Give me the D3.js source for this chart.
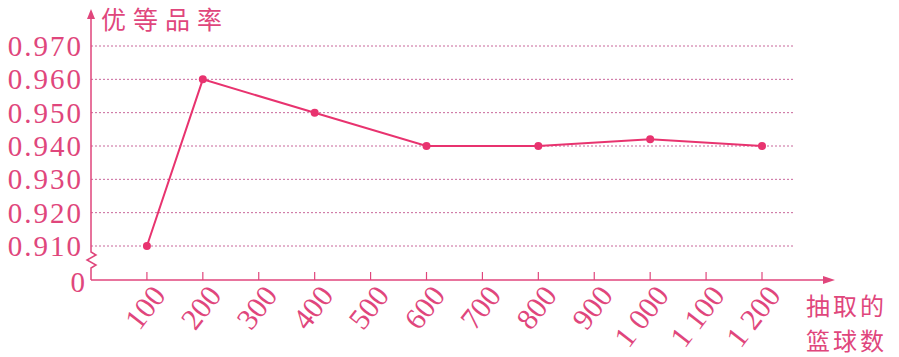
<!DOCTYPE html>
<html>
  <head>
    <meta charset="utf-8">
    <title>优等品率</title>
    <script src="https://cdn.jsdelivr.net/npm/d3@7"></script>
    <style>
      body { margin: 0; background: #fff; }
      text { fill: #e0467c; }
    </style>
  </head>
  <body>
    <svg width="899" height="357" id="mainsvg"></svg>
    <script>

    // data
    const sampleSizes = [100, 200, 400, 600, 800, 1000, 1200];
    const rates = [0.910, 0.960, 0.950, 0.940, 0.940, 0.942, 0.940];
    const xTicks = [100, 200, 300, 400, 500, 600, 700, 800, 900, 1000, 1100, 1200];
    const xTickLabels = ['100', '200', '300', '400', '500', '600', '700', '800', '900', '1 000', '1 100', '1 200'];
    const yTicks = [0.910, 0.920, 0.930, 0.940, 0.950, 0.960, 0.970];

    const pink = '#e0467c';
    const lineColor = '#e8336f';
    const svg = d3.select('svg');

    const x = d3.scaleLinear().domain([0, 1200]).range([91, 762]);
    const y = d3.scaleLinear().domain([0.910, 0.970]).range([246, 46]);
    const axisY = 280;

    // dotted grid lines
    svg.append('g').selectAll('line')
      .data(yTicks)
      .enter().append('line')
      .attr('x1', x(0)).attr('x2', 793)
      .attr('y1', d => y(d)).attr('y2', d => y(d))
      .attr('stroke', '#c8669a')
      .attr('stroke-width', 1)
      .attr('stroke-dasharray', '2,2');

    // y axis with the break
    svg.append('path')
      .attr('d', `M${x(0)},${axisY} L${x(0)},268 L${x(0)+5},265 L${x(0)-4},260 L${x(0)+5},255 L${x(0)},252 L${x(0)},16`)
      .attr('fill', 'none')
      .attr('stroke', pink)
      .attr('stroke-width', 1.5);
    svg.append('path')
      .attr('d', `M${x(0)},9 L${x(0)-4},19 L${x(0)+4},19 Z`)
      .attr('fill', pink);

    // x axis
    svg.append('line')
      .attr('x1', x(0)).attr('x2', 828)
      .attr('y1', axisY).attr('y2', axisY)
      .attr('stroke', pink).attr('stroke-width', 1.5);
    svg.append('path')
      .attr('d', `M835,${axisY} L823,${axisY-4} L823,${axisY+4} Z`)
      .attr('fill', pink);

    // x ticks
    svg.append('g').selectAll('line')
      .data(xTicks)
      .enter().append('line')
      .attr('x1', d => x(d)).attr('x2', d => x(d))
      .attr('y1', axisY).attr('y2', axisY - 8)
      .attr('stroke', pink).attr('stroke-width', 1.2);

    // y tick labels
    svg.append('g').selectAll('text')
      .data(yTicks)
      .enter().append('text')
      .attr('x', 83)
      .attr('y', d => y(d) + 10)
      .attr('text-anchor', 'end')
      .attr('font-family', 'Liberation Serif, serif')
      .attr('font-size', 29)
      .attr('letter-spacing', 2)
      .text(d => d.toFixed(3));
    svg.append('text')
      .attr('x', 85).attr('y', axisY + 12)
      .attr('text-anchor', 'end')
      .attr('font-family', 'Liberation Serif, serif')
      .attr('font-size', 29)
      .text('0');

    // x tick labels, slanted
    svg.append('g').selectAll('text')
      .data(xTicks)
      .enter().append('text')
      .attr('text-anchor', 'end')
      .attr('font-family', 'Liberation Serif, serif')
      .attr('font-size', 30)
      .attr('transform', d => `translate(${x(d) + 20},${axisY + 16}) rotate(-52)`)
      .text((d, i) => xTickLabels[i]);

    // axis titles
    svg.append('text')
      .attr('x', 101).attr('y', 29)
      .attr('font-family', 'Noto Sans CJK SC, sans-serif')
      .attr('font-size', 25)
      .attr('letter-spacing', 7)
      .text('优等品率');
    svg.append('text')
      .attr('x', 806).attr('y', 315)
      .attr('font-family', 'Noto Sans CJK SC, sans-serif')
      .attr('font-size', 24)
      .attr('letter-spacing', 3)
      .text('抽取的');
    svg.append('text')
      .attr('x', 806).attr('y', 350)
      .attr('font-family', 'Noto Sans CJK SC, sans-serif')
      .attr('font-size', 24)
      .attr('letter-spacing', 3)
      .text('篮球数');

    // line and points
    const pts = sampleSizes.map((s, i) => [s, rates[i]]);
    svg.append('path')
      .datum(pts)
      .attr('d', d3.line().x(d => x(d[0])).y(d => y(d[1])))
      .attr('fill', 'none')
      .attr('stroke', lineColor)
      .attr('stroke-width', 2);
    svg.append('g').selectAll('circle')
      .data(pts)
      .enter().append('circle')
      .attr('cx', d => x(d[0]))
      .attr('cy', d => y(d[1]))
      .attr('r', 4)
      .attr('fill', lineColor);

  </script>
  </body>
</html>
